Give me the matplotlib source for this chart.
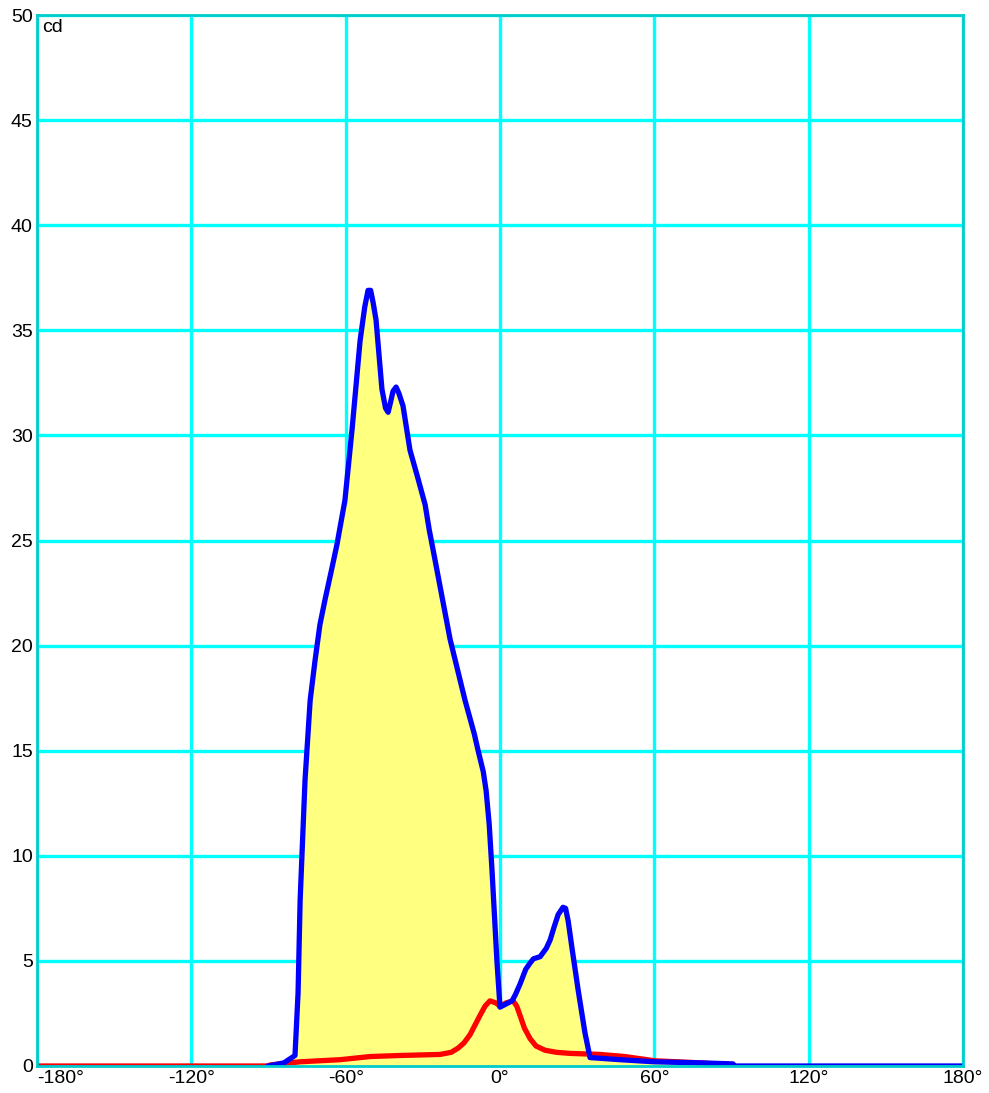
import numpy as np
import matplotlib
matplotlib.use('Agg')
import matplotlib.pyplot as plt

plt.rcParams['font.family'] = ['Liberation Sans', 'DejaVu Sans']

# C90-270 plane (blue)
blue_deg = [-90, -84, -79.7, -78.5, -77.7, -75.8, -73.8, -71.9, -70, -68, -65.5, -63.4, -60.3,
            -57.5, -54.4, -52.6, -51.3, -50.3, -49.3, -48.2, -45.9, -44.5, -43.5, -42.5,
            -41.6, -40.4, -39.3, -37.7, -35.0, -32, -29.1, -27.5, -25.3, -19.4, -13.6, -10,
            -8.5, -6.5, -5.4, -4.2, -3.1, -1.2, 0, 4.7, 6, 7.8, 10, 11.7, 13, 15.6,
            18, 19.5, 21, 22.6, 24.5, 25.5, 26.5, 28, 30.4, 33, 35.0, 46.7, 60, 77.8, 90.6, 91, 180]
blue_cd = [0, 0.15, 0.5, 3.5, 7.9, 13.6, 17.4, 19.3, 21.0, 22.2, 23.6, 24.8, 26.9,
           30.3, 34.5, 36.1, 36.9, 36.9, 36.3, 35.5, 32.2, 31.3, 31.1, 31.6,
           32.1, 32.3, 32.0, 31.4, 29.3, 28.0, 26.7, 25.5, 24.1, 20.3, 17.4, 15.8,
           15.0, 14.0, 13.1, 11.5, 9.3, 5.0, 2.8, 3.1, 3.4, 3.9, 4.6, 4.9, 5.1, 5.2,
           5.6, 6.0, 6.6, 7.2, 7.55, 7.5, 6.9, 5.6, 3.6, 1.6, 0.4, 0.3, 0.2, 0.15, 0.1, 0, 0]

# C0-180 plane (red)
red_deg = [-180, -90, -89.4, -77.7, -62.2, -50.5, -38.9, -23.3, -19, -16.3, -14, -11.6, -9.5, -7.8,
           -5.8, -3.9, -1.6, 0, 2.3, 5.1, 6.5, 7.8, 9.5, 11.7, 14, 17.5, 22, 27.2, 38.9, 48.6, 60, 77.8, 90]
red_cd = [0, 0, 0.05, 0.2, 0.3, 0.45, 0.5, 0.55, 0.65, 0.85, 1.1, 1.5, 2.0, 2.4,
          2.85, 3.1, 3.0, 2.85, 3.0, 3.1, 2.85, 2.4, 1.8, 1.3, 0.95, 0.75, 0.65, 0.6, 0.55, 0.45, 0.25, 0.15, 0.05]

x_ticks = [-180, -120, -60, 0, 60, 120, 180]
y_ticks = [0, 5, 10, 15, 20, 25, 30, 35, 40, 45, 50]

fig = plt.figure(figsize=(9.89, 10.93), dpi=100)
ax = fig.add_axes([37/989, 27/1093, 926/989, 1051/1093])

ax.fill_between(blue_deg, blue_cd, 0, color='#ffff80', linewidth=0, zorder=1)
ax.plot(red_deg, red_cd, color='#ff0000', lw=3.8, zorder=3, solid_joinstyle='round')
ax.plot(blue_deg, blue_cd, color='#0000ff', lw=3.8, zorder=4, solid_joinstyle='round')

ax.set_xlim(-180, 180)
ax.set_ylim(0, 50)
ax.set_xticks(x_ticks)
ax.set_xticklabels([f"{t}°" for t in x_ticks])
ax.set_yticks(y_ticks)
ax.set_yticklabels([str(t) for t in y_ticks])
ax.tick_params(length=0, labelsize=14, pad=3)
# first x label sits right of the corner, like the original
ax.get_xticklabels()[0].set_horizontalalignment('left')
ax.grid(True, color='#00ffff', lw=2.4, zorder=0)
ax.set_axisbelow(True)
for s in ax.spines.values():
    s.set_color('#00cccc')
    s.set_linewidth(2)
    s.set_zorder(5)

ax.text(0.006, 0.996, "cd", transform=ax.transAxes, ha='left', va='top', fontsize=14)

plt.savefig("out.png", dpi=100)
plt.close()
